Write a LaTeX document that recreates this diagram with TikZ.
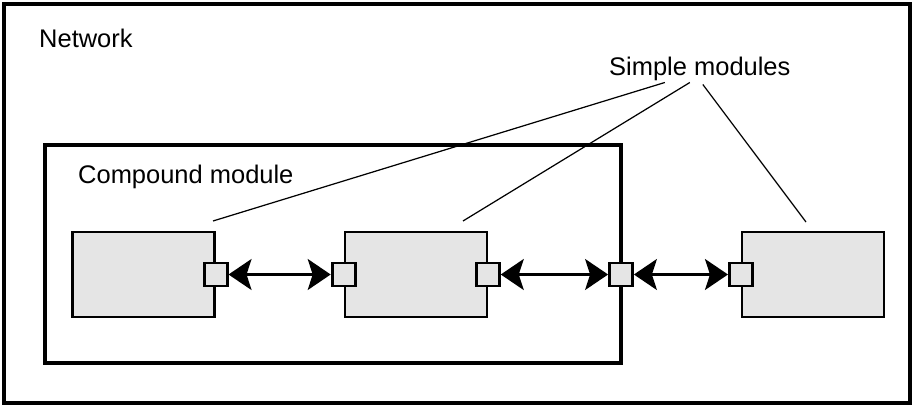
\documentclass[tikz,border=0pt]{standalone}
\usepackage{fontspec}
\setmainfont{Liberation Sans}
\usetikzlibrary{positioning}
\usetikzlibrary{arrows.meta}

\begin{document}
\begin{tikzpicture}
  [x=0.02cm, y=-0.02cm,
   every node/.style={font=\fontsize{14.5}{17}\selectfont},
   frame/.style={line width=1.8pt},
   module/.style={rectangle, draw, line width=1.3pt, fill=black!10, minimum width=2.84cm, minimum height=1.7cm, inner sep=0pt},
   gate/.style={rectangle, draw, line width=1.6pt, fill=black!10, minimum size=0.46cm, inner sep=0pt},
   conn/.style={{Stealth[length=0.46cm,width=0.62cm,inset=0.1cm]}-{Stealth[length=0.46cm,width=0.62cm,inset=0.1cm]}, line width=1.3pt},
   pointer/.style={line width=0.7pt}]
  \useasboundingbox (0,0) rectangle (917,409);
  \draw[frame] (4,4) rectangle (910,403);
  \draw[frame] (45,145) rectangle (621,363);
  \node (network) [anchor=base west] at (33,48) {Network};
  \node (compound) [anchor=base west] at (72,183) {Compound module};
  \node (simple) [anchor=base west] at (603,75) {Simple modules};

  \node (m1) [module] at (143.5,274.5) {};
  \node (m2) [module, right=2.56cm of m1] {};
  \node (m3) [module] at (813,274.5) {};

  \node (g1) [gate] at (m1.east) {};
  \node (g2a) [gate] at (m2.west) {};
  \node (g2b) [gate] at (m2.east) {};
  \node (gc) [gate] at (621,274.5) {};
  \node (g3) [gate] at (m3.west) {};

  \draw[conn] (g1) -- (g2a);
  \draw[conn] (g2b) -- (gc);
  \draw[conn] (gc) -- (g3);

  \coordinate (p1) at (213,221);
  \coordinate (p2) at (463,221);
  \coordinate (p3) at (806,222);
  \draw[pointer] ([xshift=-0.7cm, yshift=0.08cm]simple.south) -- (p1);
  \draw[pointer] ([xshift=-0.2cm, yshift=0.08cm]simple.south) -- (p2);
  \draw[pointer] ([xshift=0.06cm, yshift=0.04cm]simple.south) -- (p3);
\end{tikzpicture}
\end{document}
